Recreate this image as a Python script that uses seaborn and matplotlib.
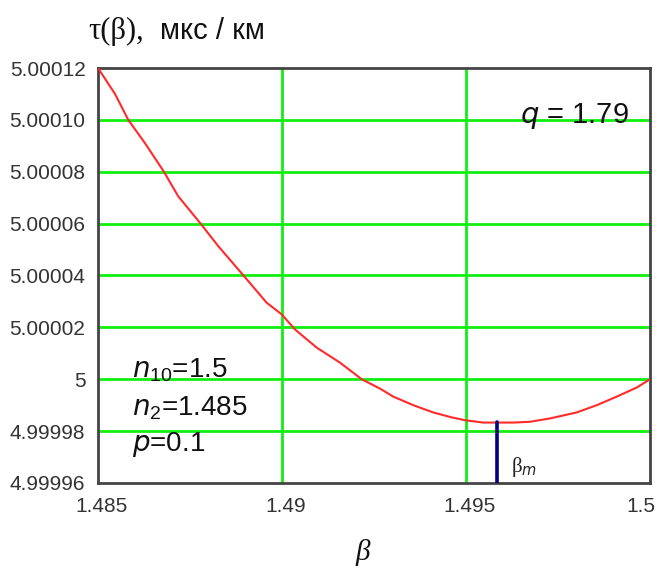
import matplotlib
matplotlib.use("Agg")
import matplotlib.pyplot as plt
import matplotlib.transforms as mtransforms
import seaborn as sns
import pandas as pd

# Propagation time per unit length versus propagation constant
beta = [1.485, 1.485462, 1.485823, 1.486277, 1.486774, 1.487182, 1.487772,
        1.488269, 1.488905, 1.489584, 1.489992, 1.490353, 1.490943, 1.491576,
        1.492166, 1.492663, 1.493024, 1.493568, 1.494111, 1.494611, 1.494973,
        1.49547, 1.496285, 1.496739, 1.497283, 1.498008, 1.498552, 1.499095,
        1.499639, 1.5]
tau = [5.00012, 5.000110, 5.000100, 5.0000910, 5.0000804, 5.0000705, 5.0000603,
       5.0000513, 5.0000408, 5.0000295, 5.0000250, 5.0000192, 5.0000122,
       5.0000064, 5.0, 4.9999964, 4.9999933, 4.9999900, 4.9999872, 4.9999853,
       4.9999842, 4.9999833, 4.9999833, 4.9999836, 4.9999849, 4.9999872,
       4.9999900, 4.9999933, 4.9999968, 5.0]

beta_m = 1.495834
tau_min = 4.9999834

x_ticks = [1.485, 1.49, 1.495, 1.5]
x_tick_labels = ["1.485", "1.49", "1.495", "1.5"]
y_ticks = [4.99996, 4.99998, 5.0, 5.00002, 5.00004, 5.00006, 5.00008, 5.0001, 5.00012]
y_tick_labels = ["4.99996", "4.99998", "5", "5.00002", "5.00004", "5.00006",
                 "5.00008", "5.00010", "5.00012"]

df = pd.DataFrame({"beta": beta, "tau": tau})

sns.set_style("white")
plt.rcParams["font.family"] = ["Liberation Sans", "DejaVu Sans"]

fig = plt.figure(figsize=(6.59, 5.69), dpi=100)
ax = fig.add_axes([98 / 659, 1 - 483 / 569, 552 / 659, 415 / 569])

ax.set_xlim(1.485, 1.5)
ax.set_ylim(4.99996, 5.00012)

# green grid at the interior tick positions
for xv in x_ticks[1:-1]:
    ax.axvline(xv, color="#10f010", lw=2, zorder=1)
for yv in y_ticks[1:-1]:
    ax.axhline(yv, color="#10f010", lw=2, zorder=1)

sns.lineplot(data=df, x="beta", y="tau", ax=ax, color="#ff2a2a", lw=1.5,
             zorder=3, legend=False)

# marker of the minimum position
ax.plot([beta_m, beta_m], [4.99996, tau_min], color="#000080", lw=2.6, zorder=4)
ax.text(beta_m + 0.0004, 4.999966, r"$\mathregular{\beta}_{\it m}$",
        fontsize=15, family="Liberation Serif", color="#222222",
        ha="left", va="center")

ax.set_xticks(x_ticks)
ax.set_xticklabels(x_tick_labels)
ax.set_yticks(y_ticks)
ax.set_yticklabels(y_tick_labels)
ax.tick_params(axis="both", length=0, labelsize=15, labelcolor="#333333")
ax.tick_params(axis="y", pad=9)
ax.tick_params(axis="x", pad=10)
ax.set_xlabel("")
ax.set_ylabel("")

shift = mtransforms.ScaledTranslation(3.5 / 100, 0, fig.dpi_scale_trans)
xlabels = ax.get_xticklabels()
for lab in xlabels:
    lab.set_transform(lab.get_transform() + shift)
xlabels[-1].set_ha("right")
xlabels[-1].set_transform(xlabels[-1].get_transform()
                          + mtransforms.ScaledTranslation(2 / 100, 0, fig.dpi_scale_trans))

for sp in ax.spines.values():
    sp.set_color("#444444")
    sp.set_linewidth(2)
    sp.set_visible(True)

fig.text(88 / 659, 1 - 31 / 569, "τ(β),", fontsize=22, family="Liberation Serif",
         ha="left", va="center", color="#111111")
fig.text(160 / 659, 1 - 31 / 569, "мкс / км", fontsize=21,
         ha="left", va="center", color="#111111")

ax.text(0.962, 0.885, r"$\it{q}$ = 1.79", transform=ax.transAxes,
        fontsize=21, ha="right", va="center", color="#111111")

ax.text(0.062, 0.272, r"$\it{n}_{\mathregular{10}}$=1.5", transform=ax.transAxes,
        fontsize=20, ha="left", va="center", color="#111111")
ax.text(0.062, 0.181, r"$\it{n}_{\mathregular{2}}$=1.485", transform=ax.transAxes,
        fontsize=20, ha="left", va="center", color="#111111")
ax.text(0.062, 0.092, r"$\it{p}$=0.1", transform=ax.transAxes,
        fontsize=20, ha="left", va="center", color="#111111")

fig.text(363 / 659, 1 - 553 / 569, "β", fontsize=21, style="italic",
         family="Liberation Serif", ha="center", va="center", color="#111111")

fig.savefig("out.png", dpi=100)
